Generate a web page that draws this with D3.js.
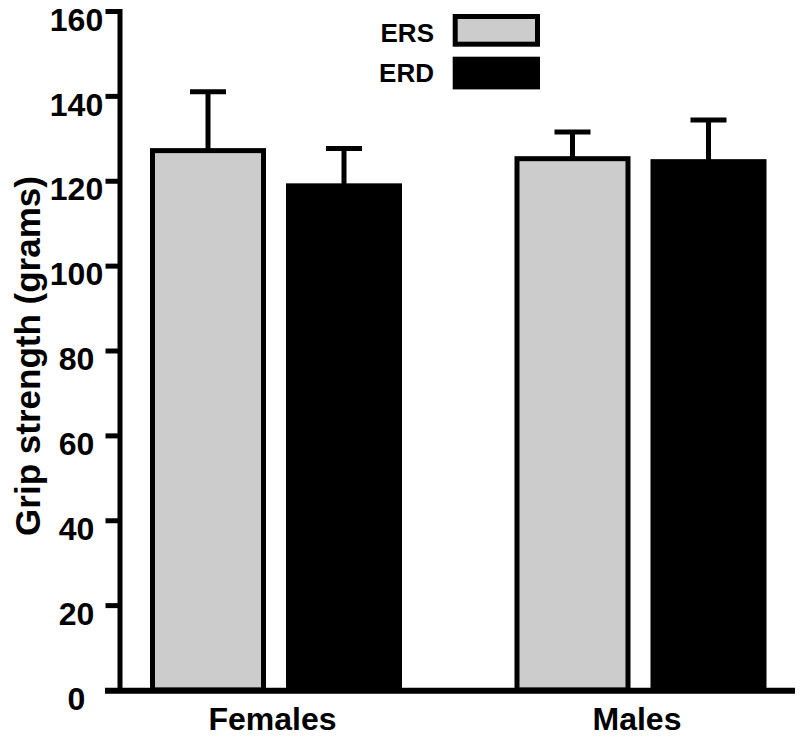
<!DOCTYPE html>
<html>
<head>
<meta charset="utf-8">
<script src="https://cdn.jsdelivr.net/npm/d3@7"></script>
<style>
  html, body { margin: 0; padding: 0; background: #fff; }
  svg text { font-family: "Liberation Sans", Arial, Helvetica, sans-serif; font-weight: bold; fill: #000; }
</style>
</head>
<body>
<svg id="chart" width="800" height="740"></svg>
<script>
// ---- data ----
const groups = ["Females", "Males"];
const series = ["ERS", "ERD"];
const meanERS = [127.1, 125.2];
const meanERD = [118.8, 124.5];
const semERS = [13.9, 6.3];
const semERD = [8.8, 9.8];
const yTicks = [0, 20, 40, 60, 80, 100, 120, 140, 160];
const yTitle = "Grip strength (grams)";
const seriesFill = {ERS: "#cccccc", ERD: "#000000"};

const rows = [];
groups.forEach((g, i) => {
  rows.push({group: g, series: "ERS", mean: meanERS[i], sem: semERS[i]});
  rows.push({group: g, series: "ERD", mean: meanERD[i], sem: semERD[i]});
});

const svg = d3.select("#chart");
const SW = 5;

const y = d3.scaleLinear().domain([0, 160]).range([690, 11]);
const x0 = d3.scaleBand().domain(groups).range([150, 766.5]).paddingInner(0.3086).paddingOuter(0);
const x1 = d3.scaleBand().domain(series).range([0, x0.bandwidth()]).paddingInner(0.147).paddingOuter(0);

// bars
const bars = svg.append("g");
bars.selectAll("rect").data(rows).join("rect")
  .attr("x", d => x0(d.group) + x1(d.series) + SW / 2)
  .attr("width", x1.bandwidth() - SW)
  .attr("y", d => y(d.mean))
  .attr("height", d => y(0) - y(d.mean))
  .attr("fill", d => seriesFill[d.series])
  .attr("stroke", "#000")
  .attr("stroke-width", SW);

// error bars (upper only)
const eb = svg.append("g").attr("stroke", "#000").attr("stroke-width", SW);
eb.selectAll("line.v").data(rows).join("line").attr("class", "v")
  .attr("x1", d => x0(d.group) + x1(d.series) + x1.bandwidth() / 2)
  .attr("x2", d => x0(d.group) + x1(d.series) + x1.bandwidth() / 2)
  .attr("y1", d => y(d.mean))
  .attr("y2", d => y(d.mean + d.sem));
eb.selectAll("line.c").data(rows).join("line").attr("class", "c")
  .attr("x1", d => x0(d.group) + x1(d.series) + x1.bandwidth() / 2 - 18)
  .attr("x2", d => x0(d.group) + x1(d.series) + x1.bandwidth() / 2 + 18)
  .attr("y1", d => y(d.mean + d.sem))
  .attr("y2", d => y(d.mean + d.sem));

// y axis
const axisX = 119.5;
const yAxis = svg.append("g").attr("transform", `translate(${axisX},0)`)
  .call(d3.axisLeft(y).tickValues(yTicks).tickSize(14).tickSizeOuter(0).tickFormat(d3.format("d")));
yAxis.select(".domain").attr("stroke", "#000").attr("stroke-width", SW).attr("stroke-linecap", "square");
yAxis.selectAll(".tick line").attr("stroke", "#000").attr("stroke-width", SW);
yAxis.selectAll(".tick text")
  .attr("x", -43)
  .attr("dy", "0.6em")
  .attr("text-anchor", "middle")
  .style("font-size", "32px")
  .style("font-family", "'Liberation Sans', Arial, sans-serif")
  .style("font-weight", "bold");

// x axis line
svg.append("line")
  .attr("x1", 105).attr("x2", 795)
  .attr("y1", 690.7).attr("y2", 690.7)
  .attr("stroke", "#000").attr("stroke-width", 6);

// x category labels
const xAxis = svg.append("g").attr("transform", "translate(-3.5,729.5)")
  .call(d3.axisBottom(x0).tickSize(0).tickPadding(0));
xAxis.select(".domain").remove();
xAxis.selectAll(".tick text")
  .attr("y", 0).attr("dy", 0)
  .style("font-size", "32px")
  .style("font-family", "'Liberation Sans', Arial, sans-serif")
  .style("font-weight", "bold");

// y title
svg.append("text")
  .attr("transform", "translate(40,356) rotate(-90)")
  .attr("text-anchor", "middle")
  .style("font-size", "35px")
  .text(yTitle);

// legend
const legend = svg.append("g");
series.forEach((s, i) => {
  const gy = 16.5 + i * 42.7;
  legend.append("rect")
    .attr("x", 455.2).attr("y", gy)
    .attr("width", 82.3).attr("height", 27.7)
    .attr("fill", seriesFill[s]).attr("stroke", "#000").attr("stroke-width", SW);
  legend.append("text")
    .attr("x", 434).attr("y", 42 + i * 40)
    .attr("text-anchor", "end")
    .style("font-size", "26px")
    .text(s);
});
</script>
</body>
</html>
